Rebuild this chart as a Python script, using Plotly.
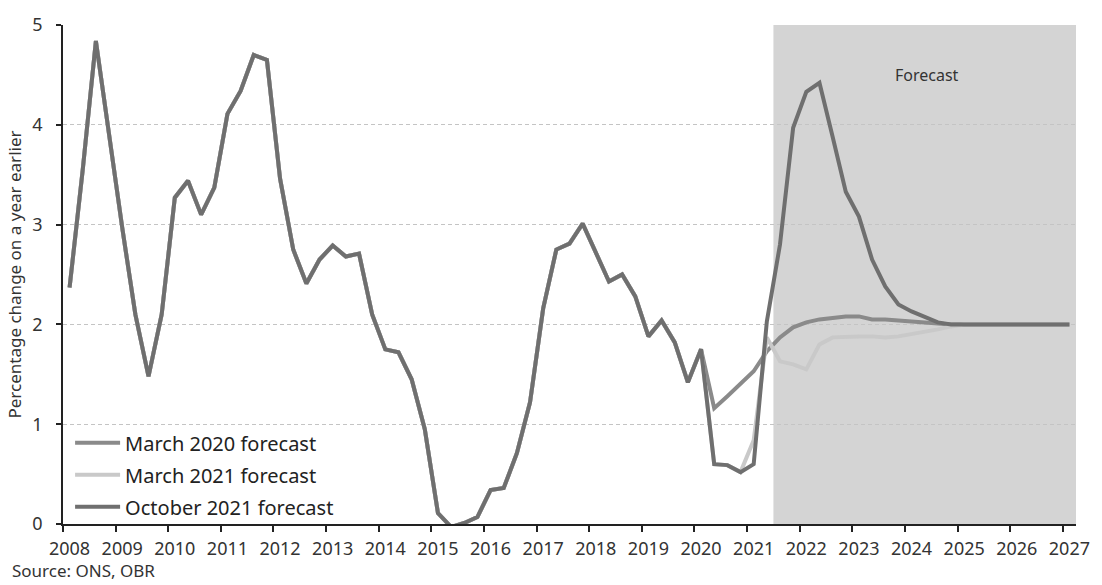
import plotly.graph_objects as go

# ---- data -------------------------------------------------------------
years = list(range(2008, 2028))
quarter_labels = [f"{y} Q{q}" for y in years for q in range(1, 5)][:77]  # 2008 Q1 .. 2027 Q1

# outturn, 2008 Q1 - 2020 Q1 (common to all vintages)
history = [2.37, 3.55, 4.84, 3.88, 2.97, 2.10, 1.48, 2.10, 3.27, 3.44,
           3.10, 3.37, 4.11, 4.34, 4.70, 4.65, 3.46, 2.75, 2.41, 2.65,
           2.79, 2.68, 2.71, 2.10, 1.75, 1.72, 1.45, 0.95, 0.11, -0.03,
           0.01, 0.07, 0.34, 0.36, 0.71, 1.22, 2.16, 2.75, 2.81, 3.01,
           2.72, 2.43, 2.50, 2.28, 1.88, 2.04, 1.82, 1.42, 1.75]
# outturn 2020 Q2 - 2020 Q4 (in March 2021 and October 2021 vintages)
outturn_2020 = [0.60, 0.59, 0.52]

# March 2020 forecast, 2020 Q2 - 2027 Q1
mar2020_fc = [1.16, 1.28, 1.40, 1.53, 1.73, 1.87, 1.97, 2.02, 2.05, 2.07,
              2.08, 2.08, 2.05, 2.05, 2.04, 2.03, 2.02, 2.01] + [2.00] * 10
# March 2021 forecast, 2021 Q1 - 2027 Q1
mar2021_fc = [0.84, 1.87, 1.63, 1.60, 1.55, 1.80, 1.87, 1.88, 1.88, 1.88,
              1.87, 1.88, 1.90, 1.92, 1.95, 1.98] + [2.00] * 9
# October 2021 forecast, 2021 Q1 - 2027 Q1
oct2021_fc = [0.60, 2.03, 2.80, 3.97, 4.33, 4.42, 3.88, 3.33, 3.08, 2.65,
              2.38, 2.20, 2.13, 2.07, 2.02] + [2.00] * 10

forecast_start = "2021 Q3"
series_names = ["March 2020 forecast", "March 2021 forecast", "October 2021 forecast"]
series_colors = ["#8a8a8a", "#c9c9c9", "#6f6f6f"]
y_ticks = [0, 1, 2, 3, 4, 5]

# ---- helpers ------------------------------------------------------------
def qpos(label):
    y, q = label.split(" Q")
    return int(y) + (int(q) - 1) / 4

x = [qpos(l) for l in quarter_labels]
series = [history + mar2020_fc,
          history + outturn_2020 + mar2021_fc,
          history + outturn_2020 + oct2021_fc]

FONT = "Noto Sans"
fig = go.Figure()

# forecast shading
fig.add_shape(type="rect", xref="x", yref="y",
              x0=qpos(forecast_start) - 0.125, x1=x[-1] + 0.125,
              y0=y_ticks[0], y1=y_ticks[-1],
              fillcolor="#d4d4d4", line=dict(width=0), layer="below")

for i, (name, ys, col) in enumerate(zip(series_names, series, series_colors)):
    fig.add_trace(go.Scatter(x=x, y=ys, mode="lines", name=name,
                             legendgroup=f"g{i}",
                             line=dict(color=col, width=4)))

fig.add_annotation(x=2024.3, y=4.50, xref="x", yref="y", text="Forecast",
                   showarrow=False, font=dict(family=FONT, size=16, color="#333333"))
fig.add_annotation(x=-0.052, y=-0.094, xref="paper", yref="paper",
                   text="Source: ONS, OBR", showarrow=False,
                   xanchor="left", yanchor="middle",
                   font=dict(family=FONT, size=17, color="#333333"))

fig.update_layout(
    width=1102, height=585,
    margin=dict(l=63, r=19, t=22, b=61),
    paper_bgcolor="white", plot_bgcolor="white",
    font=dict(family=FONT, size=18, color="#333333"),
    showlegend=True,
    legend=dict(x=0.007, y=0.202, xanchor="left", yanchor="top",
                bgcolor="rgba(0,0,0,0)", font=dict(family=FONT, size=20, color="#222222"),
                tracegroupgap=3, itemwidth=45, traceorder="grouped"),
)

fig.update_xaxes(
    range=[x[0] - 0.125, x[-1] + 0.125],
    tickmode="array", tickvals=[float(y) for y in years], ticktext=[str(y) for y in years],
    ticks="", showgrid=False, zeroline=False,
    showline=True, linecolor="#222222", linewidth=1.5,
    tickfont=dict(family=FONT, size=18, color="#333333"),
    ticklabelstandoff=8,
    minor=dict(tickmode="array", tickvals=[y - 0.125 for y in years],
               ticks="outside", ticklen=6, tickwidth=1.5, tickcolor="#222222",
               showgrid=False),
)
fig.update_yaxes(
    range=[y_ticks[0], y_ticks[-1]], tickmode="array", tickvals=y_ticks,
    ticks="outside", ticklen=5, tickwidth=1.5, tickcolor="#222222",
    showline=True, linecolor="#222222", linewidth=1.5, zeroline=False,
    showgrid=True, gridcolor="#c4c4c4", gridwidth=1, griddash="4px,3px",
    tickfont=dict(family=FONT, size=18, color="#333333"),
    ticklabelstandoff=10,
    title=dict(text="Percentage change on a year earlier", standoff=6,
               font=dict(family=FONT, size=17, color="#333333")),
)

fig.write_html("out.html", config={"displayModeBar": False},
               post_script="document.body.style.margin='0';")
